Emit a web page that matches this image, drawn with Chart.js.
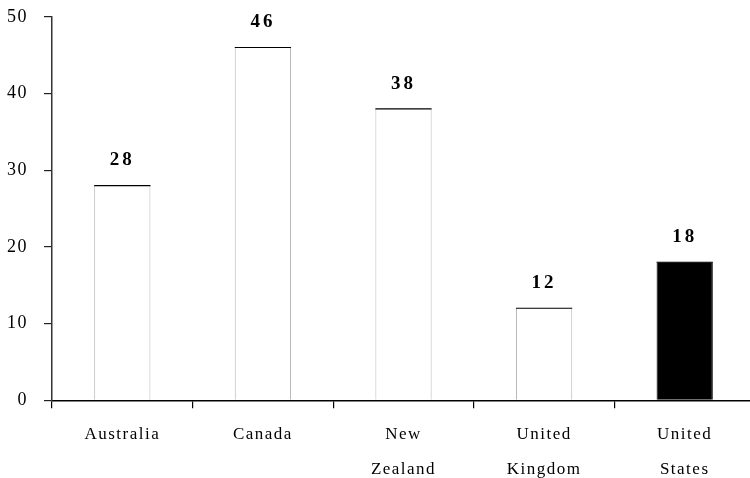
<!DOCTYPE html>
<html>
<head>
<meta charset="utf-8">
<script src="https://cdn.jsdelivr.net/npm/chart.js@4"></script>
<style>
  html, body { margin: 0; padding: 0; background: #fff; overflow: hidden; }
  body { width: 750px; height: 478px; position: relative; }
  #wrap { width: 761px; height: 506px; position: absolute; left: -6px; top: -10px; }
</style>
</head>
<body>
<div id="wrap"><canvas id="myChart"></canvas></div>
<script>
// chart data
const countries = ['Australia', 'Canada', ['New', 'Zealand'], ['United', 'Kingdom'], ['United', 'States']];
const values = [28, 46, 38, 12, 18];
const barFills = ['#ffffff', '#ffffff', '#ffffff', '#ffffff', '#000000'];
const yTicks = [0, 10, 20, 30, 40, 50];

const serif = "'Liberation Serif', 'DejaVu Serif', serif";

// wider letters like the original
const spacing = {
  id: 'spacing',
  beforeDraw(chart) {
    chart.ctx.letterSpacing = '1.5px';
  }
};

// value labels above bars + black top edge of each bar
const barExtras = {
  id: 'barExtras',
  afterDatasetsDraw(chart) {
    const ctx = chart.ctx;
    const meta = chart.getDatasetMeta(0);
    ctx.save();
    meta.data.forEach((bar, i) => {
      const half = bar.width / 2;
      ctx.strokeStyle = '#000';
      ctx.lineWidth = 1.2;
      ctx.beginPath();
      ctx.moveTo(bar.x - half, bar.y);
      ctx.lineTo(bar.x + half, bar.y);
      ctx.stroke();

      ctx.fillStyle = '#000';
      ctx.font = "bold 19px " + serif;
      ctx.letterSpacing = '3px';
      ctx.textAlign = 'center';
      ctx.textBaseline = 'middle';
      ctx.fillText(String(values[i]), bar.x, bar.y - 25);
    });
    ctx.restore();
  }
};

const myChart = new Chart(document.getElementById('myChart'), {
  type: 'bar',
  data: {
    labels: countries,
    datasets: [{
      data: values,
      backgroundColor: barFills,
      borderColor: barFills.map(c => c === '#000000' ? '#000000' : '#b8b8b8'),
      borderWidth: { top: 0, left: 1, right: 1, bottom: 0 },
      borderSkipped: false,
      barPercentage: 0.4,
      categoryPercentage: 1.0
    }]
  },
  options: {
    responsive: true,
    maintainAspectRatio: false,
    animation: false,
    layout: { padding: { top: 8, left: 0, right: 0, bottom: 0 } },
    plugins: {
      legend: { display: false },
      tooltip: { enabled: false }
    },
    scales: {
      x: {
        offset: true,
        grid: {
          offset: true,
          drawOnChartArea: false,
          drawTicks: true,
          tickLength: 8,
          color: '#000',
          lineWidth: 1.2
        },
        border: { color: '#000', width: 1.5 },
        ticks: {
          color: '#000',
          font: { family: serif, size: 17, lineHeight: 2.05 },
          padding: 9,
          maxRotation: 0,
          autoSkip: false
        }
      },
      y: {
        min: 0,
        max: 50,
        afterBuildTicks(axis) {
          axis.ticks = yTicks.map(v => ({ value: v }));
        },
        grid: {
          drawOnChartArea: false,
          drawTicks: true,
          tickLength: 8,
          color: '#222',
          lineWidth: 1.2
        },
        border: { color: '#333', width: 1.5 },
        ticks: {
          color: '#000',
          font: { family: serif, size: 18 },
          padding: 16
        }
      }
    }
  },
  plugins: [spacing, barExtras]
});
</script>
</body>
</html>
